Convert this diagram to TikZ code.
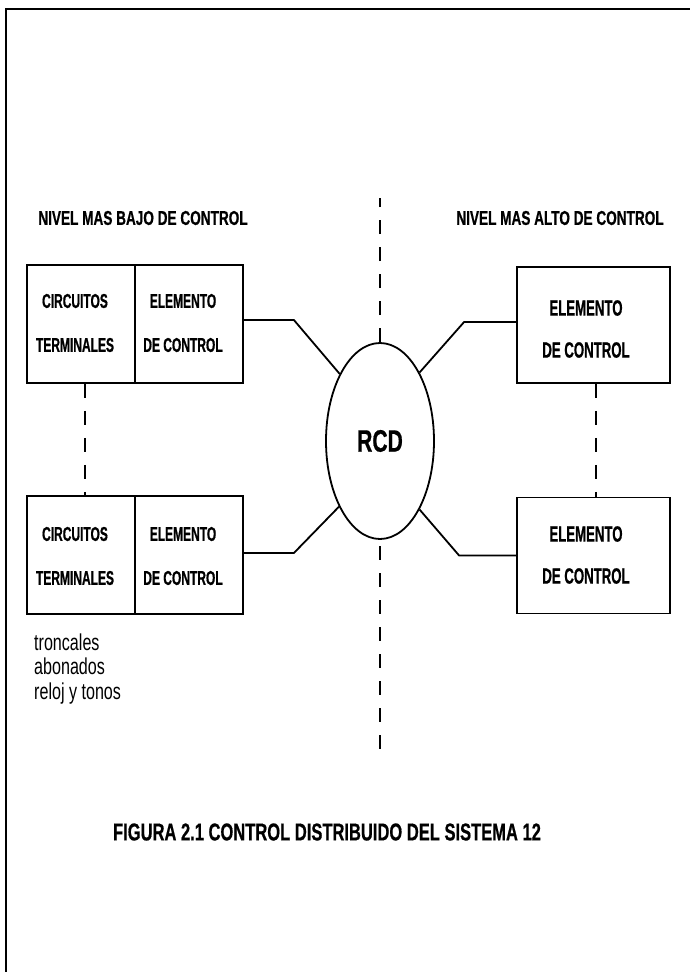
\documentclass[tikz,border=0pt]{standalone}
\usepackage{fontspec}
\usetikzlibrary{shapes.geometric}
\newfontfamily\cnd[FakeStretch=0.6,FakeBold=0.7]{Liberation Sans Bold}
\newfontfamily\cnh[FakeStretch=0.68,FakeBold=0.6]{Liberation Sans Bold}
\newfontfamily\cnr[FakeStretch=0.7]{Liberation Sans}
\begin{document}
\begin{tikzpicture}[x=1pt,y=-1pt,
  cell/.style={draw,line width=1.8pt,minimum width=108pt,minimum height=118pt,inner sep=0pt},
  rbox/.style={draw,line width=1.8pt,minimum width=153pt,minimum height=116pt,inner sep=0pt},
  ctext/.style={align=center,inner sep=0pt,font=\cnd\fontsize{20}{44}\selectfont},
  rtext/.style={align=center,inner sep=0pt,font=\cnd\fontsize{22}{42}\selectfont},
  conn/.style={line width=1.8pt},
  dsh/.style={line width=1.8pt,dash pattern=on 14pt off 13pt},
  head/.style={font=\cnh\fontsize{20}{22}\selectfont,inner sep=0pt},
  frame/.style={line width=2pt}]
\useasboundingbox (0,0) rectangle (690,972);
% frame
\coordinate (fa) at (6,972);
\coordinate (fb) at (6,9);
\coordinate (fc) at (690,9);
\draw[frame] (fa) -- (fb) -- (fc);
% headers
\node[head] (hl) at (143,218) {NIVEL MAS BAJO DE CONTROL};
\node[head] (hr) at (560,218) {NIVEL MAS ALTO DE CONTROL};
% left boxes
\node[cell] (lt1) at (81,324) {};
\node[cell] (lt2) at (189,324) {};
\node[cell] (lb1) at (81,555) {};
\node[cell] (lb2) at (189,555) {};
\node[ctext] (tlt1) at (75,323) {CIRCUITOS\\TERMINALES};
\node[ctext] (tlt2) at (183,323) {ELEMENTO\\DE CONTROL};
\node[ctext] (tlb1) at (75,556) {CIRCUITOS\\TERMINALES};
\node[ctext] (tlb2) at (183,556) {ELEMENTO\\DE CONTROL};
% right boxes
\node[rbox] (rt) at (593.5,325) {};
\node[rbox] (rb) at (593.5,555.5) {};
\node[rtext] (trt) at (586,329) {ELEMENTO\\DE CONTROL};
\node[rtext] (trb) at (586,555) {ELEMENTO\\DE CONTROL};
% RCD
\node[ellipse,draw,line width=1.8pt,minimum width=108pt,minimum height=196pt,inner sep=0pt,
  font=\cnh\fontsize{31}{33}\selectfont] (rcd) at (380,441) {RCD};
% connectors
\draw[conn] ([yshift=4pt]lt2.east) -- ++(50,0) -- (rcd.121);
\draw[conn] ([yshift=2pt]lb2.east) -- ++(50,0) -- (rcd.238);
\draw[conn] ([yshift=3pt]rt.west) -- ++(-52,0) -- (rcd.60);
\draw[conn] (rb.west) -- ++(-57,0) -- (rcd.300);
% dashed lines
\coordinate (ctop) at (380,198);
\coordinate (cb1) at (380,546);
\coordinate (cb2) at (380,752);
\draw[dsh] (rcd.north) -- (ctop);
\draw[dsh] (cb1) -- (cb2);
\draw[dsh] ([xshift=4pt]lt1.south) -- ([xshift=4pt]lb1.north);
\draw[dsh] ([xshift=2.5pt]rt.south) -- ([xshift=2.5pt]rb.north);
% labels
\node[anchor=west,align=left,inner sep=0pt,font=\cnr\fontsize{23}{24.5}\selectfont] (lab) at (34,669)
  {troncales\\abonados\\reloj y tonos};
% caption
\node[font=\cnh\fontsize{24.3}{27}\selectfont,inner sep=0pt] (cap) at (327,832)
  {FIGURA 2.1 CONTROL DISTRIBUIDO DEL SISTEMA 12};
\end{tikzpicture}
\end{document}
